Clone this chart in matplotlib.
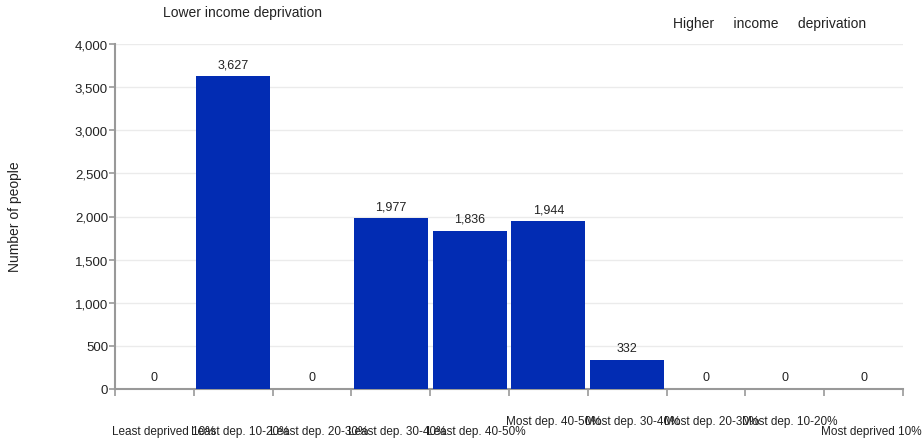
import matplotlib.pyplot as plt

categories = ["Least deprived 10%", "Least dep. 10-20%", "Least dep. 20-30%",
              "Least dep. 30-40%", "Least dep. 40-50%", "Most dep. 40-50%",
              "Most dep. 30-40%", "Most dep. 20-30%", "Most dep. 10-20%",
              "Most deprived 10%"]
people = [0, 3627, 0, 1977, 1836, 1944, 332, 0, 0, 0]
yticks = [0, 500, 1000, 1500, 2000, 2500, 3000, 3500, 4000]
# which labels sit on the upper row (as in the original)
upper_row = [False, False, False, False, False, True, True, True, True, False]

plt.rcParams['font.family'] = ['Liberation Sans', 'DejaVu Sans']

fig = plt.figure(figsize=(9.24, 4.39), dpi=100)
ax = fig.add_axes([115 / 924, 1 - 390 / 439, 788 / 924, 345 / 439])

x = list(range(len(categories)))
ax.bar(x, people, width=0.94, color='#022cb3', zorder=3)
for xi, v in zip(x, people):
    ax.text(xi, v + 70, f"{v:,}", ha='center', va='bottom', fontsize=9, color='#222222')

ax.set_xlim(-0.5, len(categories) - 0.5)
ax.set_ylim(0, 4000)
ax.set_yticks(yticks)
ax.set_yticklabels([f"{t:,}" for t in yticks], fontsize=9.5, color='#222222')
ax.yaxis.grid(True, color='#ebebeb', linewidth=1, zorder=0)

ax.set_xticks([i - 0.5 for i in x] + [len(categories) - 0.5])
ax.set_xticklabels([])
ax.tick_params(axis='x', length=5, color='#999999', width=1.2)
ax.tick_params(axis='y', length=4, color='#999999', width=1.2, pad=1)

for s in ['top', 'right']:
    ax.spines[s].set_visible(False)
for s in ['left', 'bottom']:
    ax.spines[s].set_color('#999999')
    ax.spines[s].set_linewidth(1.5)

for xi, lab, up in zip(x, categories, upper_row):
    ax.annotate(lab, xy=(xi - 0.5, 0), xycoords=('data', 'axes fraction'),
                xytext=(-3, -38 if up else -48), textcoords='offset pixels',
                ha='left', va='bottom', fontsize=8.5, color='#222222',
                annotation_clip=False)

fig.text(15 / 924, 1 - 217 / 439, "Number of people", rotation=90,
         ha='center', va='center', fontsize=10, color='#222222')
fig.text(163 / 924, 1 - 13 / 439, "Lower income deprivation",
         ha='left', va='center', fontsize=10, color='#222222')
fig.text(673 / 924, 1 - 24 / 439, "Higher     income     deprivation",
         ha='left', va='center', fontsize=10, color='#222222')

fig.savefig("out.png", dpi=100)
